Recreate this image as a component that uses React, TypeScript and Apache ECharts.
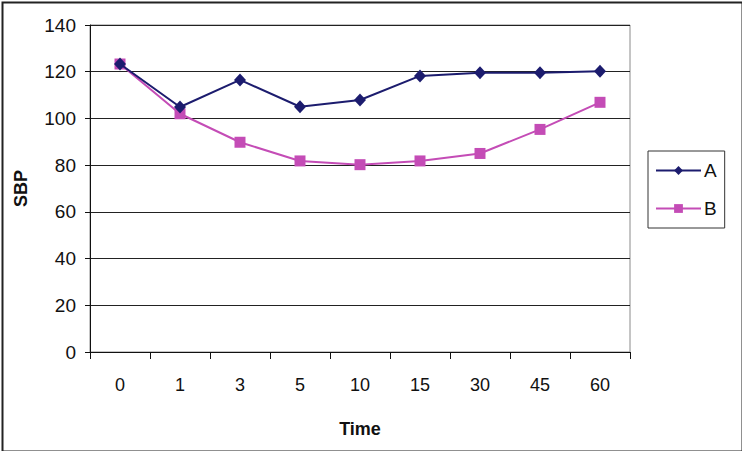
import React, { useEffect, useRef } from "react";
import * as echarts from "echarts";

const categories = ["0", "1", "3", "5", "10", "15", "30", "45", "60"];
const seriesA = [123.3, 104.9, 116.5, 105.0, 107.9, 118.2, 119.6, 119.6, 120.2];
const seriesB = [123.3, 102.0, 89.8, 81.8, 80.2, 81.8, 85.0, 95.3, 106.9];
const yTicks = { min: 0, max: 140, interval: 20 };

const FONT = "'Liberation Sans', Arial, sans-serif";

export default function App() {
  const ref = useRef<HTMLDivElement>(null);
  useEffect(() => {
    if (!ref.current) return;
    const chart = echarts.init(ref.current, undefined, { renderer: "svg" });
    chart.setOption({
      animation: false,
      backgroundColor: "#ffffff",
      textStyle: { fontFamily: FONT },
      grid: {
        left: 90,
        right: 112,
        top: 25,
        bottom: 99,
        show: true,
        borderColor: "#8a8a8a",
        borderWidth: 1,
        backgroundColor: "transparent",
      },
      legend: {
        orient: "vertical",
        left: 648,
        top: 151,
        padding: [10, 8, 10, 7],
        itemWidth: 45,
        itemHeight: 11,
        itemGap: 19,
        borderColor: "#333",
        borderWidth: 1,
        textStyle: { fontSize: 19, color: "#111", fontFamily: FONT, padding: [0, 0, 0, -2] },
        data: ["A", "B"],
      },
      xAxis: {
        type: "category",
        data: categories,
        boundaryGap: true,
        name: "Time",
        nameLocation: "middle",
        nameGap: 68,
        nameTextStyle: { fontSize: 18, fontWeight: "bold", color: "#111", fontFamily: FONT },
        axisLine: { lineStyle: { color: "#111", width: 1 } },
        axisTick: { show: true, length: 7, lineStyle: { color: "#111" } },
        axisLabel: { fontSize: 18, color: "#111", margin: 24, fontFamily: FONT },
        splitLine: { show: false },
      },
      yAxis: {
        type: "value",
        min: yTicks.min,
        max: yTicks.max,
        interval: yTicks.interval,
        name: "SBP",
        nameLocation: "middle",
        nameGap: 60,
        nameRotate: 90,
        nameTextStyle: { fontSize: 18, fontWeight: "bold", color: "#111", fontFamily: FONT },
        axisLine: { show: true, lineStyle: { color: "#111", width: 1 } },
        axisTick: { show: true, length: 5, lineStyle: { color: "#111" } },
        axisLabel: { fontSize: 19, color: "#111", margin: 14, fontFamily: FONT },
        splitLine: { show: true, lineStyle: { color: "#222", width: 1 } },
      },
      series: [
        {
          name: "A",
          type: "line",
          data: seriesA,
          symbol: "diamond",
          symbolSize: [12, 13],
          lineStyle: { color: "#1c1c6e", width: 2 },
          itemStyle: { color: "#1c1c6e" },
          z: 3,
        },
        {
          name: "B",
          type: "line",
          data: seriesB,
          symbol: "rect",
          symbolSize: 11,
          lineStyle: { color: "#c44cb6", width: 2 },
          itemStyle: { color: "#c44cb6" },
          z: 2,
        },
      ],
      graphic: [
        {
          type: "rect",
          left: 0,
          top: 0,
          shape: { x: 1, y: 1, width: 740, height: 449 },
          style: { fill: "none", stroke: "#222", lineWidth: 2 },
          silent: true,
        },
      ],
    });
    return () => chart.dispose();
  }, []);
  return (
    <div
      ref={ref}
      style={{ position: "absolute", left: 0, top: 0, width: 742, height: 451 }}
    />
  );
}
